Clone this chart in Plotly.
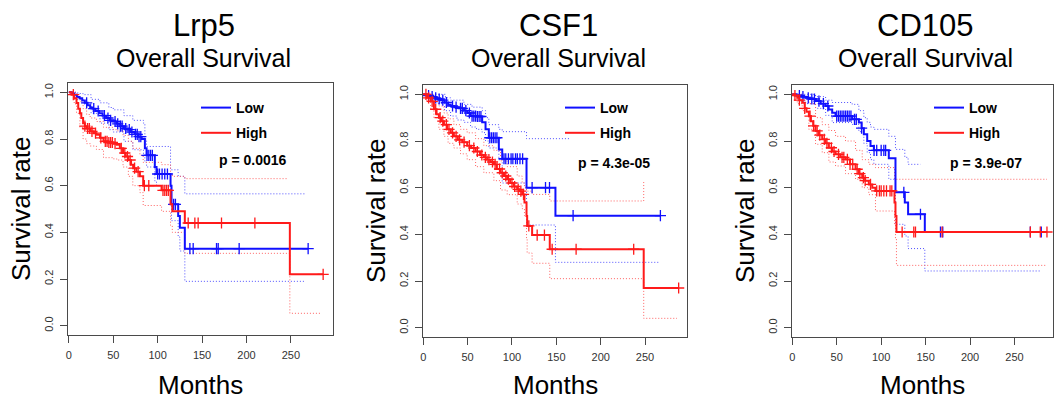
import numpy as np
import plotly.graph_objects as go

# ---------------- data ----------------
GENES = ["Lrp5", "CSF1", "CD105"]
SUBTITLE = "Overall Survival"
PVALUES = ["p = 0.0016", "p = 4.3e-05", "p = 3.9e-07"]
GROUPS = ["Low", "High"]
X_TICKS = [0, 50, 100, 150, 200, 250]
Y_TICKS = [0.0, 0.2, 0.4, 0.6, 0.8, 1.0]
X_TITLE = "Months"
Y_TITLE = "Survival rate"

# Lrp5 - Low
LRP5_LOW_T = [0, 3, 6, 9, 12, 15, 18, 21, 24, 27, 30, 34, 38, 42, 46, 50, 54, 58, 62, 66, 70, 74, 78, 82,
              85.6, 87.5, 96.8, 98.7, 114.5, 115.6, 123.1, 125, 130.6, 269.5]
LRP5_LOW_S = [1.0, 0.995, 0.99, 0.98, 0.975, 0.965, 0.955, 0.945, 0.935, 0.93, 0.92, 0.91, 0.90, 0.89, 0.88,
              0.875, 0.865, 0.855, 0.845, 0.84, 0.83, 0.82, 0.81, 0.80, 0.76, 0.73, 0.68, 0.65, 0.60, 0.52,
              0.47, 0.42, 0.33, 0.33]
LRP5_LOW_UP_T = [0, 10, 16, 25, 35, 45, 50, 62, 72, 84, 85.6, 87.5, 114.5, 123.1, 130.6, 265.8]
LRP5_LOW_UP_S = [1.0, 0.995, 0.99, 0.97, 0.955, 0.935, 0.925, 0.90, 0.88, 0.868, 0.80, 0.768, 0.668, 0.64,
                 0.565, 0.565]
LRP5_LOW_LO_T = [0, 8, 16, 25, 35, 45, 50, 62, 72, 84, 85.6, 87.5, 96.8, 98.7, 114.5, 115.6, 123.1, 125,
                 130.6, 265.8]
LRP5_LOW_LO_S = [1.0, 0.97, 0.95, 0.91, 0.868, 0.84, 0.83, 0.79, 0.754, 0.73, 0.70, 0.68, 0.62, 0.60, 0.53,
                 0.45, 0.38, 0.32, 0.19, 0.19]
LRP5_LOW_CENS = [20, 28, 33, 40, 44, 47, 52, 55, 58, 60, 64, 68, 71, 75, 77, 79, 81, 88, 90, 92, 94, 100,
                 102, 105, 108, 111, 118, 120, 136.3, 140, 166.3, 168.2, 191.8, 269.5]

# Lrp5 - High
LRP5_HIGH_T = [0, 3, 6, 8.6, 10.5, 12.4, 14, 16, 18, 20, 24, 28, 31, 35, 39, 44, 50, 54, 57.4, 61, 64, 67,
               70, 72.4, 76, 80, 83.7, 104.4, 114.5, 116.5, 130.6, 248.9, 286.4]
LRP5_HIGH_S = [1.0, 0.99, 0.975, 0.954, 0.93, 0.91, 0.89, 0.868, 0.855, 0.845, 0.833, 0.825, 0.818, 0.805,
               0.79, 0.785, 0.78, 0.775, 0.76, 0.74, 0.725, 0.71, 0.69, 0.675, 0.66, 0.64, 0.60, 0.58, 0.52,
               0.49, 0.44, 0.22, 0.22]
LRP5_HIGH_UP_T = [0, 8.6, 12.4, 16, 20, 24, 31, 39, 50, 54, 61, 67, 72, 80, 83.7, 104.4, 114.5, 116.5,
                  130.6, 246.7]
LRP5_HIGH_UP_S = [1.0, 0.99, 0.96, 0.93, 0.905, 0.89, 0.875, 0.85, 0.84, 0.835, 0.815, 0.79, 0.76, 0.73,
                  0.70, 0.69, 0.65, 0.64, 0.63, 0.63]
LRP5_HIGH_LO_T = [0, 6, 8.6, 12.4, 16, 20, 24, 31, 39, 50, 54, 61, 67, 72, 80, 83.7, 104.4, 114.5, 116.5,
                  130.6, 248.9, 284.5]
LRP5_HIGH_LO_S = [1.0, 0.95, 0.91, 0.85, 0.80, 0.78, 0.77, 0.755, 0.72, 0.715, 0.71, 0.68, 0.64, 0.60,
                  0.57, 0.515, 0.49, 0.43, 0.40, 0.31, 0.053, 0.053]
LRP5_HIGH_CENS = [5, 18, 21, 23, 26, 30, 36, 41, 43, 45, 47, 49, 52, 59, 63, 66, 69, 74, 78, 85, 90, 106,
                  108, 110, 112, 134.4, 141.9, 145.6, 171.9, 209.5, 286.4]

# CSF1 - Low
CSF1_LOW_T = [0, 4, 8, 12, 16, 20, 24, 28, 31, 35, 40, 46, 50, 53.3, 60, 66.4, 70.2, 73.9, 85.2, 89,
              116.4, 149, 267.3]
CSF1_LOW_S = [1.0, 0.995, 0.99, 0.985, 0.98, 0.975, 0.965, 0.955, 0.95, 0.945, 0.94, 0.93, 0.92, 0.907,
              0.905, 0.88, 0.85, 0.814, 0.764, 0.724, 0.60, 0.48, 0.48]
CSF1_LOW_UP_T = [0, 15.8, 25, 30.8, 45.8, 55, 66.4, 70.2, 73.9, 85.2, 89, 116.4, 164.4]
CSF1_LOW_UP_S = [1.0, 1.0, 0.985, 0.975, 0.957, 0.945, 0.93, 0.90, 0.87, 0.85, 0.84, 0.81, 0.81]
CSF1_LOW_LO_T = [0, 8, 15.8, 24, 30.8, 38, 45.8, 53.3, 60, 66.4, 70.2, 73.9, 85.2, 89, 116.4, 149, 265.3]
CSF1_LOW_LO_S = [1.0, 0.98, 0.96, 0.93, 0.907, 0.89, 0.88, 0.86, 0.85, 0.836, 0.80, 0.77, 0.72, 0.62, 0.44,
                 0.28, 0.28]
CSF1_LOW_CENS = [6, 10, 14, 18, 22, 26, 33, 37, 42, 44, 48, 52, 55, 57, 59, 61, 63, 65, 75, 77, 79, 81, 83,
                 91, 93, 96, 99, 101, 104, 106, 109, 112, 122.7, 137.8, 142.3, 168.9, 267.3]

# CSF1 - High
CSF1_HIGH_T = [0, 4, 8.3, 12, 15, 17.6, 20, 23.3, 27, 31, 34.5, 39, 44, 49.5, 54, 59, 64, 68.3, 72, 76,
               79.6, 83, 87.1, 91, 94.6, 98, 102, 105.9, 108, 111.5, 114.1, 116.4, 117.1, 122.7, 142.6,
               248.5, 287.9]
CSF1_HIGH_S = [1.0, 0.985, 0.97, 0.936, 0.915, 0.90, 0.885, 0.87, 0.85, 0.835, 0.82, 0.805, 0.795, 0.78,
               0.77, 0.755, 0.74, 0.73, 0.72, 0.71, 0.70, 0.68, 0.664, 0.65, 0.636, 0.62, 0.605, 0.593,
               0.585, 0.571, 0.536, 0.479, 0.436, 0.397, 0.336, 0.17, 0.17]
CSF1_HIGH_UP_T = [0, 8.3, 12, 17.6, 23.3, 28, 34.5, 42, 49.5, 59, 68.3, 79.6, 87.1, 94.6, 105.9, 111.5,
                  114.1, 116.4, 122.7, 142.6, 248.5]
CSF1_HIGH_UP_S = [1.0, 0.99, 0.97, 0.95, 0.92, 0.895, 0.87, 0.85, 0.835, 0.81, 0.78, 0.76, 0.715, 0.69,
                  0.65, 0.62, 0.60, 0.585, 0.571, 0.543, 0.624]
CSF1_HIGH_LO_T = [0, 4, 8.3, 12, 17.6, 23.3, 28, 34.5, 42, 49.5, 59, 68.3, 79.6, 87.1, 94.6, 105.9, 111.5,
                  114.1, 116.4, 117.1, 122.7, 142.6, 248.5, 286]
CSF1_HIGH_LO_S = [1.0, 0.97, 0.94, 0.90, 0.85, 0.82, 0.79, 0.77, 0.745, 0.72, 0.69, 0.664, 0.63, 0.59,
                  0.57, 0.53, 0.51, 0.48, 0.38, 0.32, 0.276, 0.21, 0.04, 0.04]
CSF1_HIGH_CENS = [3, 6, 10, 14, 19, 22, 26, 29, 33, 37, 41, 46, 52, 57, 61, 66, 70, 74, 78, 81, 86, 89,
                  93, 96, 100, 103, 107, 110, 113, 119, 128.4, 136.6, 145.3, 172.3, 237.2, 287.9]

# CD105 - Low
CD105_LOW_T = [0, 5, 10, 15, 20, 26.2, 32, 37.5, 41, 44.9, 48.7, 67.4, 74.9, 78, 80.5, 84.3, 88, 91.8,
               108.6, 116.1, 126.6, 130.3, 149.1, 286.5]
CD105_LOW_S = [1.0, 0.995, 0.99, 0.985, 0.98, 0.971, 0.96, 0.95, 0.935, 0.921, 0.907, 0.893, 0.879, 0.855,
               0.829, 0.80, 0.779, 0.76, 0.726, 0.58, 0.536, 0.486, 0.41, 0.41]
CD105_LOW_UP_T = [0, 15, 26.2, 37.5, 44.9, 67.4, 74.9, 80.5, 84.3, 88, 91.8, 108.6, 116.1, 126.6, 130.3,
                  144.2]
CD105_LOW_UP_S = [1.0, 1.0, 0.99, 0.975, 0.965, 0.957, 0.93, 0.90, 0.88, 0.86, 0.85, 0.82, 0.764, 0.73,
                  0.70, 0.70]
CD105_LOW_LO_T = [0, 10, 15, 26.2, 37.5, 44.9, 67.4, 74.9, 80.5, 84.3, 88, 91.8, 108.6, 116.1, 126.6,
                  130.3, 149.1, 279]
CD105_LOW_LO_S = [1.0, 0.975, 0.96, 0.94, 0.91, 0.879, 0.871, 0.84, 0.79, 0.75, 0.72, 0.70, 0.636, 0.443,
                  0.393, 0.339, 0.243, 0.243]
CD105_LOW_CENS = [8, 12, 18, 22, 25, 30, 35, 40, 50, 52, 54, 56, 58, 60, 62, 64, 66, 70, 72, 78, 92, 95,
                  100, 103, 105, 125.5, 144.2, 166.7, 169.3, 267.8, 280.1]

# CD105 - High
CD105_HIGH_T = [0, 3, 5.6, 8, 11.2, 14, 16, 18.7, 21, 23.5, 26.2, 30, 33.7, 37.5, 41.2, 45, 48.7, 54, 59.9,
                65, 71.2, 75, 78.7, 82, 86.1, 90, 93.6, 115, 116.1, 117.2, 286.5]
CD105_HIGH_S = [1.0, 0.995, 0.985, 0.975, 0.964, 0.94, 0.925, 0.907, 0.885, 0.865, 0.843, 0.825, 0.807,
                0.79, 0.771, 0.755, 0.743, 0.73, 0.721, 0.70, 0.679, 0.66, 0.643, 0.63, 0.614, 0.60, 0.586,
                0.536, 0.479, 0.41, 0.41]
CD105_HIGH_UP_T = [0, 5.6, 11.2, 18.7, 26.2, 33.7, 41.2, 48.7, 59.9, 71.2, 78.7, 86.1, 93.6, 115, 286.5]
CD105_HIGH_UP_S = [1.0, 1.0, 0.99, 0.96, 0.90, 0.87, 0.845, 0.82, 0.80, 0.76, 0.72, 0.70, 0.686, 0.636,
                   0.636]
CD105_HIGH_LO_T = [0, 5.6, 11.2, 18.7, 26.2, 33.7, 41.2, 48.7, 59.9, 71.2, 78.7, 86.1, 93.6, 115, 116.1,
                   117.2, 285]
CD105_HIGH_LO_S = [1.0, 0.96, 0.93, 0.85, 0.786, 0.75, 0.71, 0.693, 0.66, 0.636, 0.60, 0.57, 0.50, 0.44,
                   0.38, 0.267, 0.267]
CD105_HIGH_CENS = [3, 8, 14, 20, 24, 28, 31, 36, 39, 44, 47, 52, 56, 58, 62, 65, 68, 73, 76, 80, 82, 88,
                   95, 98, 100, 103, 106, 110, 112, 123.6, 136.7, 138.6, 168.5, 267.8, 279, 286.5]

PANEL_DATA = [
    {"Low": (LRP5_LOW_T, LRP5_LOW_S, LRP5_LOW_UP_T, LRP5_LOW_UP_S, LRP5_LOW_LO_T, LRP5_LOW_LO_S, LRP5_LOW_CENS),
     "High": (LRP5_HIGH_T, LRP5_HIGH_S, LRP5_HIGH_UP_T, LRP5_HIGH_UP_S, LRP5_HIGH_LO_T, LRP5_HIGH_LO_S, LRP5_HIGH_CENS)},
    {"Low": (CSF1_LOW_T, CSF1_LOW_S, CSF1_LOW_UP_T, CSF1_LOW_UP_S, CSF1_LOW_LO_T, CSF1_LOW_LO_S, CSF1_LOW_CENS),
     "High": (CSF1_HIGH_T, CSF1_HIGH_S, CSF1_HIGH_UP_T, CSF1_HIGH_UP_S, CSF1_HIGH_LO_T, CSF1_HIGH_LO_S, CSF1_HIGH_CENS)},
    {"Low": (CD105_LOW_T, CD105_LOW_S, CD105_LOW_UP_T, CD105_LOW_UP_S, CD105_LOW_LO_T, CD105_LOW_LO_S, CD105_LOW_CENS),
     "High": (CD105_HIGH_T, CD105_HIGH_S, CD105_HIGH_UP_T, CD105_HIGH_UP_S, CD105_HIGH_LO_T, CD105_HIGH_LO_S, CD105_HIGH_CENS)},
]

# ---------------- style / layout ----------------
W, H = 1060, 403
FONT = "Liberation Sans, Arial, sans-serif"
COLORS = {"Low": "#1010ff", "High": "#ff1a1a"}
CI_COLORS = {"Low": "#5050ff", "High": "#ff6262"}
AXIS_COLOR = "#4a4a4a"
# plot boxes in pixels: left, right, top, bottom
BOXES = [(68, 333, 83, 335), (423, 687, 85, 337), (792, 1053, 85, 337)]
X_RANGES = [[-1.0, 297.5], [-0.3, 297.3], [-0.3, 293.3]]
Y_RANGE = [-0.04, 1.04]
LEGEND_X = [196, 560, 929]          # px, legend box left
PVAL_POS = [(253, 160), (614, 163), (986, 163)]


def px(x):
    return x / W


def py(y):
    return 1 - y / H


def step_at(times, surv, t):
    i = np.searchsorted(np.asarray(times), t, side="right") - 1
    return np.asarray(surv)[i]


fig = go.Figure()
annotations = []
legend_names = ["legend", "legend2", "legend3"]

for k, (gene, pv, box, xr, pdata) in enumerate(zip(GENES, PVALUES, BOXES, X_RANGES, PANEL_DATA)):
    sfx = "" if k == 0 else str(k + 1)
    xa, ya = "x" + sfx, "y" + sfx
    for g in GROUPS:
        t, s, ut, us, lt, ls, cens = pdata[g]
        for ct, cs in ((ut, us), (lt, ls)):
            fig.add_trace(go.Scatter(x=ct, y=cs, mode="lines", line_shape="hv",
                                     line=dict(color=CI_COLORS[g], width=1, dash="1px,2px"),
                                     xaxis=xa, yaxis=ya, showlegend=False, hoverinfo="skip"))
    for g in GROUPS:
        t, s, ut, us, lt, ls, cens = pdata[g]
        fig.add_trace(go.Scatter(x=t, y=s, mode="lines", line_shape="hv", name=g,
                                 line=dict(color=COLORS[g], width=2),
                                 xaxis=xa, yaxis=ya, legend=legend_names[k],
                                 legendgroup=f"{gene}-{g}", showlegend=True))
        cy = [float(step_at(t, s, c)) for c in cens]
        fig.add_trace(go.Scatter(x=cens, y=cy, mode="markers",
                                 marker=dict(symbol="cross-thin", size=8,
                                             line=dict(color=COLORS[g], width=1.3)),
                                 xaxis=xa, yaxis=ya, showlegend=False, hoverinfo="skip"))

    l, r, tp, bt = box
    axis_common = dict(showline=True, linecolor=AXIS_COLOR, linewidth=1.3, mirror=True,
                       ticks="outside", ticklen=7, tickcolor=AXIS_COLOR, tickwidth=1.2,
                       showgrid=False, zeroline=False, automargin=False,
                       tickfont=dict(family=FONT, size=11, color="#333333"))
    fig.layout["xaxis" + sfx] = dict(domain=[px(l), px(r)], range=xr, tickvals=X_TICKS,
                                     anchor=ya, ticklabelstandoff=3, **axis_common)
    fig.layout["yaxis" + sfx] = dict(domain=[py(bt), py(tp)], range=Y_RANGE, tickvals=Y_TICKS,
                                     tickformat=".1f", tickangle=-90, anchor=xa,
                                     ticklabelstandoff=2, **axis_common)

    cx = (l + r) / 2
    pvx, pvy = PVAL_POS[k]
    annotations += [
        dict(text=gene, x=px(cx + 3), y=py(26), xref="paper", yref="paper", showarrow=False,
             font=dict(family=FONT, size=31, color="black"), xanchor="center", yanchor="middle"),
        dict(text=SUBTITLE, x=px(cx + 3), y=py(58), xref="paper", yref="paper", showarrow=False,
             font=dict(family=FONT, size=25, color="black"), xanchor="center", yanchor="middle"),
        dict(text=X_TITLE, x=px(cx), y=py(385), xref="paper", yref="paper", showarrow=False,
             font=dict(family=FONT, size=26, color="black"), xanchor="center", yanchor="middle"),
        dict(text=Y_TITLE, x=px(l - 47), y=py((tp + bt) / 2), xref="paper", yref="paper",
             showarrow=False, textangle=-90,
             font=dict(family=FONT, size=26, color="black"), xanchor="center", yanchor="middle"),
        dict(text="<b>" + pv + "</b>", x=px(pvx), y=py(pvy), xref="paper", yref="paper",
             showarrow=False, font=dict(family=FONT, size=14, color="black"),
             xanchor="center", yanchor="middle"),
    ]
    fig.layout[legend_names[k]] = dict(x=px(LEGEND_X[k]), y=py(92), xanchor="left", yanchor="top",
                                       bgcolor="rgba(0,0,0,0)", borderwidth=0,
                                       font=dict(family=FONT, size=14, color="black", weight="bold"),
                                       tracegroupgap=4, itemwidth=30)

fig.update_layout(width=W, height=H, margin=dict(l=0, r=0, t=0, b=0),
                  paper_bgcolor="white", plot_bgcolor="white",
                  annotations=annotations, showlegend=True)

fig.write_html("out.html", config={"displayModeBar": False},
               post_script="document.body.style.margin='0px';")
